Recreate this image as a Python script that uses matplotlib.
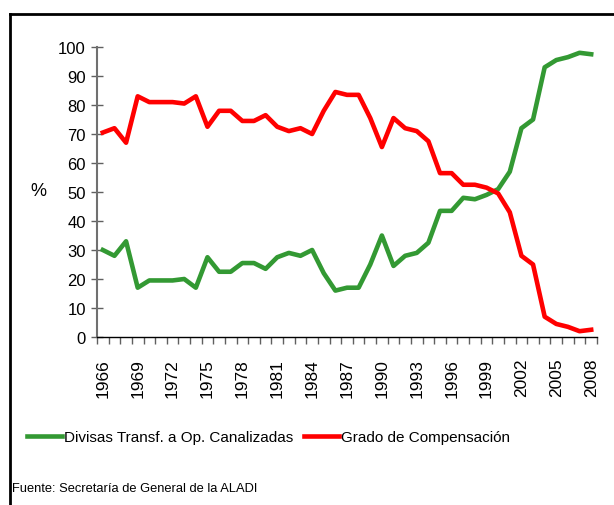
import matplotlib
matplotlib.use("Agg")
import matplotlib.pyplot as plt
from matplotlib.lines import Line2D

years = list(range(1966, 2009))
divisas = [30, 28, 33, 17, 19.5, 19.5, 19.5, 20, 17, 27.5, 22.5, 22.5, 25.5, 25.5,
           23.5, 27.5, 29, 28, 30, 22, 16, 17, 17, 25, 35, 24.5, 28, 29, 32.5,
           43.5, 43.5, 48, 47.5, 49, 51, 57, 72, 75, 93, 95.5, 96.5, 98, 97.5]
grado = [70.5, 72, 67, 83, 81, 81, 81, 80.5, 83, 72.5, 78, 78, 74.5, 74.5, 76.5,
         72.5, 71, 72, 70, 78, 84.5, 83.5, 83.5, 75.5, 65.5, 75.5, 72, 71, 67.5,
         56.5, 56.5, 52.5, 52.5, 51.5, 49.5, 43, 28, 25, 7, 4.5, 3.5, 2, 2.5]
label_years = [str(y) for y in range(1966, 2009, 3)]
yticks = list(range(0, 101, 10))

plt.rcParams['font.family'] = ['Liberation Sans', 'DejaVu Sans']

fig = plt.figure(figsize=(6.14, 5.06), dpi=100)
ax = fig.add_axes([97/614, 1-338/506, 500/614, 290/506])

x = list(range(len(years)))
l1, = ax.plot(x, divisas, color='#339933', lw=3.3, solid_joinstyle='round',
              label='Divisas Transf. a Op. Canalizadas')
l2, = ax.plot(x, grado, color='#ff0000', lw=3.3, solid_joinstyle='round',
              label='Grado de Compensación')

ax.set_xlim(-0.5, len(years) - 0.5)
ax.set_ylim(0, 100)
ax.set_yticks(yticks)
ax.set_yticklabels([str(v) for v in yticks], fontsize=12)
ax.tick_params(axis='y', direction='inout', length=8, width=1, color='#606060', pad=4)

# category boundary ticks
ax.set_xticks([i - 0.5 for i in range(len(years) + 1)], minor=False)
ax.set_xticklabels([''] * (len(years) + 1))
ax.tick_params(axis='x', direction='out', length=5, width=1, color='#606060')
# labels at every 3rd year
ax.set_xticks([years.index(int(y)) for y in label_years], minor=True)
ax.set_xticklabels(label_years, minor=True, rotation=90, fontsize=12.5)
ax.tick_params(axis='x', which='minor', length=0, pad=15)

for s in ['top', 'right']:
    ax.spines[s].set_visible(False)
ax.spines['left'].set_color('#707070')
ax.spines['left'].set_linewidth(1.5)
ax.spines['bottom'].set_color('black')
ax.spines['bottom'].set_linewidth(1)

fig.text(38/614, 1-191/506, '%', fontsize=13, ha='center', va='center')

leg1 = fig.legend(handles=[l1], loc='center left',
                  bbox_to_anchor=(27/614, 1-438/506), frameon=False,
                  fontsize=11, handlelength=2.3, handletextpad=0.15,
                  borderaxespad=0, borderpad=0)
leg2 = fig.legend(handles=[l2], loc='center left',
                  bbox_to_anchor=(304/614, 1-438/506), frameon=False,
                  fontsize=11, handlelength=2.3, handletextpad=0.15,
                  borderaxespad=0, borderpad=0)

fig.text(12/614, 1-489/506, 'Fuente: Secretaría de General de la ALADI', fontsize=9.3,
         ha='left', va='center')

# outer frame (left and top)
fig.add_artist(Line2D([9.5/614, 9.5/614], [0, 1-14.5/506], color='black', lw=2,
                      transform=fig.transFigure))
fig.add_artist(Line2D([9.5/614, 1], [1-14.5/506, 1-14.5/506], color='black', lw=2,
                      transform=fig.transFigure))

fig.savefig('out.png', dpi=100)
